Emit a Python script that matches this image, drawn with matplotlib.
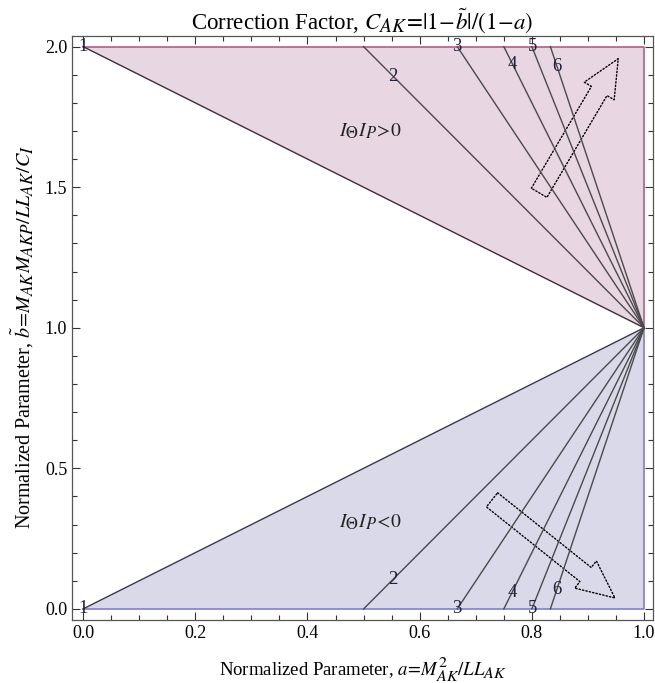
import matplotlib
matplotlib.use("Agg")
import matplotlib.pyplot as plt
import matplotlib._mathtext as mt
from matplotlib.patches import Polygon, FancyArrowPatch
from matplotlib.ticker import MultipleLocator

plt.rcParams["font.family"] = ["Liberation Serif", "DejaVu Serif"]
plt.rcParams["mathtext.fontset"] = "stix"
# larger sub/superscripts, closer to the typesetting of the original labels
mt.SHRINK_FACTOR = 0.85

# contour levels of C_AK and where each line meets b=2 (upper) / b=0 (lower)
levels = [1, 2, 3, 4, 5, 6]
a_edge = [0.0, 0.5, 0.667, 0.75, 0.8, 0.833]
apex = (1.0, 1.0)

# label positions (a, b) for each level
lab_up_a = [0.0, 0.553, 0.667, 0.766, 0.802, 0.845]
lab_up_b = [2.0, 1.894, 2.0, 1.936, 2.0, 1.93]
lab_lo_a = [0.0, 0.553, 0.667, 0.766, 0.802, 0.845]
lab_lo_b = [0.0, 0.103, 0.0, 0.06, 0.0, 0.068]

# region captions
region_pos = [(0.512, 1.70), (0.512, 0.31)]
region_txt = [r"$I_\Theta I_P\!>\!0$", r"$I_\Theta I_P\!<\!0$"]

# direction arrows: (tail, tip)
arrows = [((0.813, 1.480), (0.954, 1.957)),
          ((0.729, 0.388), (0.948, 0.039))]

fig = plt.figure(figsize=(6.55, 6.83), dpi=100)
ax = fig.add_axes([0.110, 0.092, 0.887, 0.855])

pink, pink_edge = "#e9d6e3", "#b0608c"
lav, lav_edge = "#d9d9ea", "#7f7fcc"

ax.add_patch(Polygon([(0, 2), (1, 2), apex], closed=True, fc=pink, ec="none"))
ax.add_patch(Polygon([(0, 0), (1, 0), apex], closed=True, fc=lav, ec="none"))
ax.plot([0, 1, 1], [2, 2, 1], color=pink_edge, lw=1.2)
ax.plot([0, 1, 1], [0, 0, 1], color=lav_edge, lw=1.2)

for c, a0 in zip(levels, a_edge):
    ax.plot([a0, apex[0]], [2.0, apex[1]], color="#3b3038" if c == 1 else "#4a4a4a", lw=1.0)
    ax.plot([a0, apex[0]], [0.0, apex[1]], color="#3a3a48" if c == 1 else "#4a4a4a", lw=1.0)

for c, xa, yb in zip(levels, lab_up_a, lab_up_b):
    ax.text(xa, yb, str(c), ha="center", va="center", fontsize=13.5, color="#22223a")
for c, xa, yb in zip(levels, lab_lo_a, lab_lo_b):
    ax.text(xa, yb, str(c), ha="center", va="center", fontsize=13.5, color="#22223a")

for (xa, yb), t in zip(region_pos, region_txt):
    ax.text(xa, yb, t, ha="center", va="center", fontsize=14, color="#222222")

for tail, tip in arrows:
    ax.add_patch(FancyArrowPatch(
        tail, tip,
        arrowstyle="simple,head_length=27,head_width=25,tail_width=13",
        mutation_scale=1, shrinkA=0, shrinkB=0,
        fill=False, ec="black", lw=1.0, ls=(0, (1, 1.5))))

ax.set_xlim(-0.0196, 1.016)
ax.set_ylim(-0.04, 2.037)
ax.xaxis.set_major_locator(MultipleLocator(0.2))
ax.xaxis.set_minor_locator(MultipleLocator(0.05))
ax.yaxis.set_major_locator(MultipleLocator(0.5))
ax.yaxis.set_minor_locator(MultipleLocator(0.1))
ax.tick_params(which="both", direction="in", top=True, right=True,
               labelsize=13, width=0.8, color="#333333")
ax.tick_params(which="major", length=6)
ax.tick_params(which="minor", length=3.5)
ax.xaxis.set_major_formatter(plt.FormatStrFormatter("%.1f"))
ax.yaxis.set_major_formatter(plt.FormatStrFormatter("%.1f"))
for s in ax.spines.values():
    s.set_color("#555555")
    s.set_linewidth(0.9)

ax.set_title(r"Correction Factor, $C_{AK}\!=\!|1\!-\!\tilde{b}|/(1\!-\!a)$",
             fontsize=16.5, pad=5)
ax.set_xlabel(r"Normalized Parameter, $a\!=\!M_{AK}^2/LL_{AK}$", fontsize=13.5, labelpad=9)
ax.set_ylabel(r"Normalized Parameter, $\tilde{b}\!=\!M_{AK}M_{AKP}/LL_{AK}/C_I$",
              fontsize=14.5)
ax.yaxis.set_label_coords(-0.062, 0.485)

fig.savefig("out.png", dpi=100)
